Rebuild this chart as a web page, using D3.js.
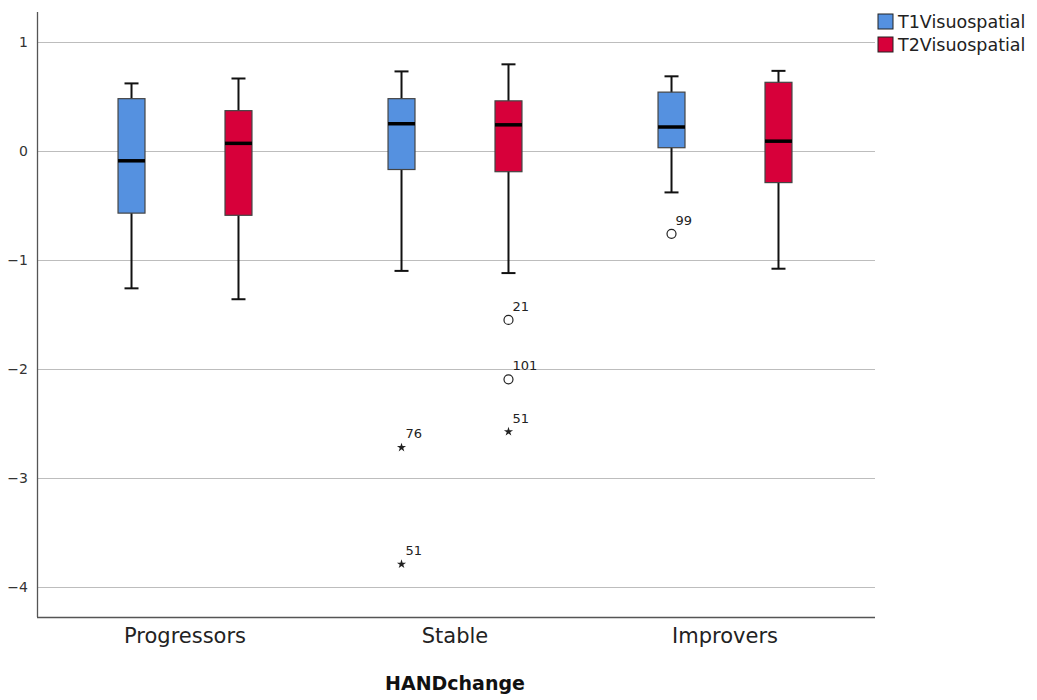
<!DOCTYPE html>
<html>
<head>
<meta charset="utf-8">
<script src="https://cdn.jsdelivr.net/npm/d3@7"></script>
<style>
  body { margin: 0; background: #fff; }
  text { font-family: "DejaVu Sans", sans-serif; }
</style>
</head>
<body>
<div id="chart"></div>
<script>
const groups = ['Progressors', 'Stable', 'Improvers'];
const seriesNames = ['T1Visuospatial', 'T2Visuospatial'];
const seriesColors = ['#5591e0', '#d7003a'];
const yTicks = [1, 0, -1, -2, -3, -4];

// [whiskerLow, q1, median, q3, whiskerHigh] per group
const t1Stats = [
    [-1.26, -0.57, -0.09, 0.48, 0.62],
    [-1.10, -0.17, 0.25, 0.48, 0.73],
    [-0.38, 0.03, 0.22, 0.54, 0.685]
];
const t2Stats = [
    [-1.36, -0.59, 0.07, 0.37, 0.665],
    [-1.12, -0.19, 0.24, 0.46, 0.795],
    [-1.08, -0.29, 0.09, 0.63, 0.735]
];

// outliers: group, series, value, case label, kind
const outliers = [
    { group: 'Stable', series: 0, value: -2.72, label: '76', kind: 'extreme' },
    { group: 'Stable', series: 0, value: -3.79, label: '51', kind: 'extreme' },
    { group: 'Stable', series: 1, value: -1.55, label: '21', kind: 'mild' },
    { group: 'Stable', series: 1, value: -2.095, label: '101', kind: 'mild' },
    { group: 'Stable', series: 1, value: -2.575, label: '51', kind: 'extreme' },
    { group: 'Improvers', series: 0, value: -0.76, label: '99', kind: 'mild' }
];

const WIDTH = 1037;
const HEIGHT = 700;
const PLOT_LEFT = 37, PLOT_RIGHT = 875, PLOT_TOP = 12, PLOT_BOTTOM = 617;

const svg = d3.select('#chart')
    .append('svg')
        .attr('width', WIDTH)
        .attr('height', HEIGHT);

const y_scale = d3.scaleLinear()
    .domain([-4.275, 1.275])
    .range([PLOT_BOTTOM, PLOT_TOP]);

const x_scale = d3.scaleBand()
    .domain(groups)
    .range([50, 860]);

const sub_scale = d3.scaleBand()
    .domain([0, 1])
    .range([0, x_scale.bandwidth()])
    .paddingInner(0.748)
    .paddingOuter(0.636);

// gridlines
svg.append('g')
    .selectAll('line')
    .data(yTicks)
    .enter()
    .append('line')
        .attr('x1', PLOT_LEFT)
        .attr('x2', PLOT_RIGHT)
        .attr('y1', d => Math.round(y_scale(d)) + 0.5)
        .attr('y2', d => Math.round(y_scale(d)) + 0.5)
        .attr('stroke', '#bdbdbd')
        .attr('stroke-width', 1);

// y axis
const yAxis = d3.axisLeft(y_scale).tickValues(yTicks).tickSize(0).tickPadding(9)
    .tickFormat(d => d < 0 ? '\u2212' + Math.abs(d) : d);
const yg = svg.append('g')
    .attr('transform', `translate(${PLOT_LEFT},0)`)
    .call(yAxis);
yg.select('.domain').remove();
yg.selectAll('text').attr('font-size', 14).attr('fill', '#333').attr('font-family', '"DejaVu Sans", sans-serif');

svg.append('line')
    .attr('x1', PLOT_LEFT + 0.5).attr('x2', PLOT_LEFT + 0.5)
    .attr('y1', PLOT_TOP).attr('y2', PLOT_BOTTOM)
    .attr('stroke', '#555').attr('stroke-width', 1.3);
svg.append('line')
    .attr('x1', PLOT_LEFT).attr('x2', PLOT_RIGHT)
    .attr('y1', PLOT_BOTTOM + 0.5).attr('y2', PLOT_BOTTOM + 0.5)
    .attr('stroke', '#555').attr('stroke-width', 1.3);

// x axis labels
const xAxis = d3.axisBottom(x_scale).tickSize(0).tickPadding(11);
const xg = svg.append('g')
    .attr('transform', `translate(0,${PLOT_BOTTOM})`)
    .call(xAxis);
xg.select('.domain').remove();
xg.selectAll('text').attr('font-size', 21).attr('fill', '#222').attr('font-family', '"DejaVu Sans Condensed", "DejaVu Sans", sans-serif');

svg.append('text')
    .attr('x', x_scale('Stable') + x_scale.bandwidth() / 2)
    .attr('y', 690)
    .attr('text-anchor', 'middle')
    .attr('font-size', 19)
    .attr('font-weight', 'bold')
    .attr('fill', '#111')
    .attr('font-family', '"DejaVu Sans Condensed", "DejaVu Sans", sans-serif')
    .text('HANDchange');

// boxes
const boxData = [];
groups.forEach((g, i) => {
    [t1Stats[i], t2Stats[i]].forEach((s, k) => {
        boxData.push({ group: g, series: k, stats: s });
    });
});

const boxW = sub_scale.bandwidth();
const capW = 14;

const boxes = svg.append('g')
    .selectAll('g')
    .data(boxData)
    .enter()
    .append('g')
        .attr('transform', d => `translate(${x_scale(d.group) + sub_scale(d.series)},0)`);

boxes.append('line')
    .attr('x1', boxW / 2).attr('x2', boxW / 2)
    .attr('y1', d => y_scale(d.stats[0]))
    .attr('y2', d => y_scale(d.stats[4]))
    .attr('stroke', '#111').attr('stroke-width', 2);
boxes.append('line')
    .attr('x1', (boxW - capW) / 2).attr('x2', (boxW + capW) / 2)
    .attr('y1', d => y_scale(d.stats[0])).attr('y2', d => y_scale(d.stats[0]))
    .attr('stroke', '#111').attr('stroke-width', 2);
boxes.append('line')
    .attr('x1', (boxW - capW) / 2).attr('x2', (boxW + capW) / 2)
    .attr('y1', d => y_scale(d.stats[4])).attr('y2', d => y_scale(d.stats[4]))
    .attr('stroke', '#111').attr('stroke-width', 2);
boxes.append('rect')
    .attr('x', 0)
    .attr('width', boxW)
    .attr('y', d => y_scale(d.stats[3]))
    .attr('height', d => y_scale(d.stats[1]) - y_scale(d.stats[3]))
    .attr('fill', d => seriesColors[d.series])
    .attr('stroke', '#444').attr('stroke-width', 1.2);
boxes.append('line')
    .attr('x1', 0).attr('x2', boxW)
    .attr('y1', d => y_scale(d.stats[2])).attr('y2', d => y_scale(d.stats[2]))
    .attr('stroke', '#000').attr('stroke-width', 3.5);

// outliers
const star = d3.symbol().type(d3.symbolStar).size(26);
const outG = svg.append('g')
    .selectAll('g')
    .data(outliers)
    .enter()
    .append('g')
        .attr('transform', d => `translate(${x_scale(d.group) + sub_scale(d.series) + boxW / 2},${y_scale(d.value)})`);

outG.filter(d => d.kind === 'mild')
    .append('circle')
        .attr('r', 4.5)
        .attr('fill', 'none')
        .attr('stroke', '#222').attr('stroke-width', 1.2);
outG.filter(d => d.kind === 'extreme')
    .append('path')
        .attr('d', star)
        .attr('fill', '#222');
outG.append('text')
    .attr('x', 4)
    .attr('y', -9)
    .attr('font-size', 13)
    .attr('fill', '#222')
    .text(d => d.label);

// legend
const legend = svg.append('g')
    .selectAll('g')
    .data(seriesNames)
    .enter()
    .append('g')
        .attr('transform', (d, i) => `translate(878,${14 + i * 23})`);
legend.append('rect')
    .attr('width', 15).attr('height', 15)
    .attr('fill', (d, i) => seriesColors[i])
    .attr('stroke', '#222').attr('stroke-width', 1);
legend.append('text')
    .attr('x', 20).attr('y', 14)
    .attr('font-size', 17.5)
    .attr('fill', '#222')
    .text(d => d);
</script>
</body>
</html>
